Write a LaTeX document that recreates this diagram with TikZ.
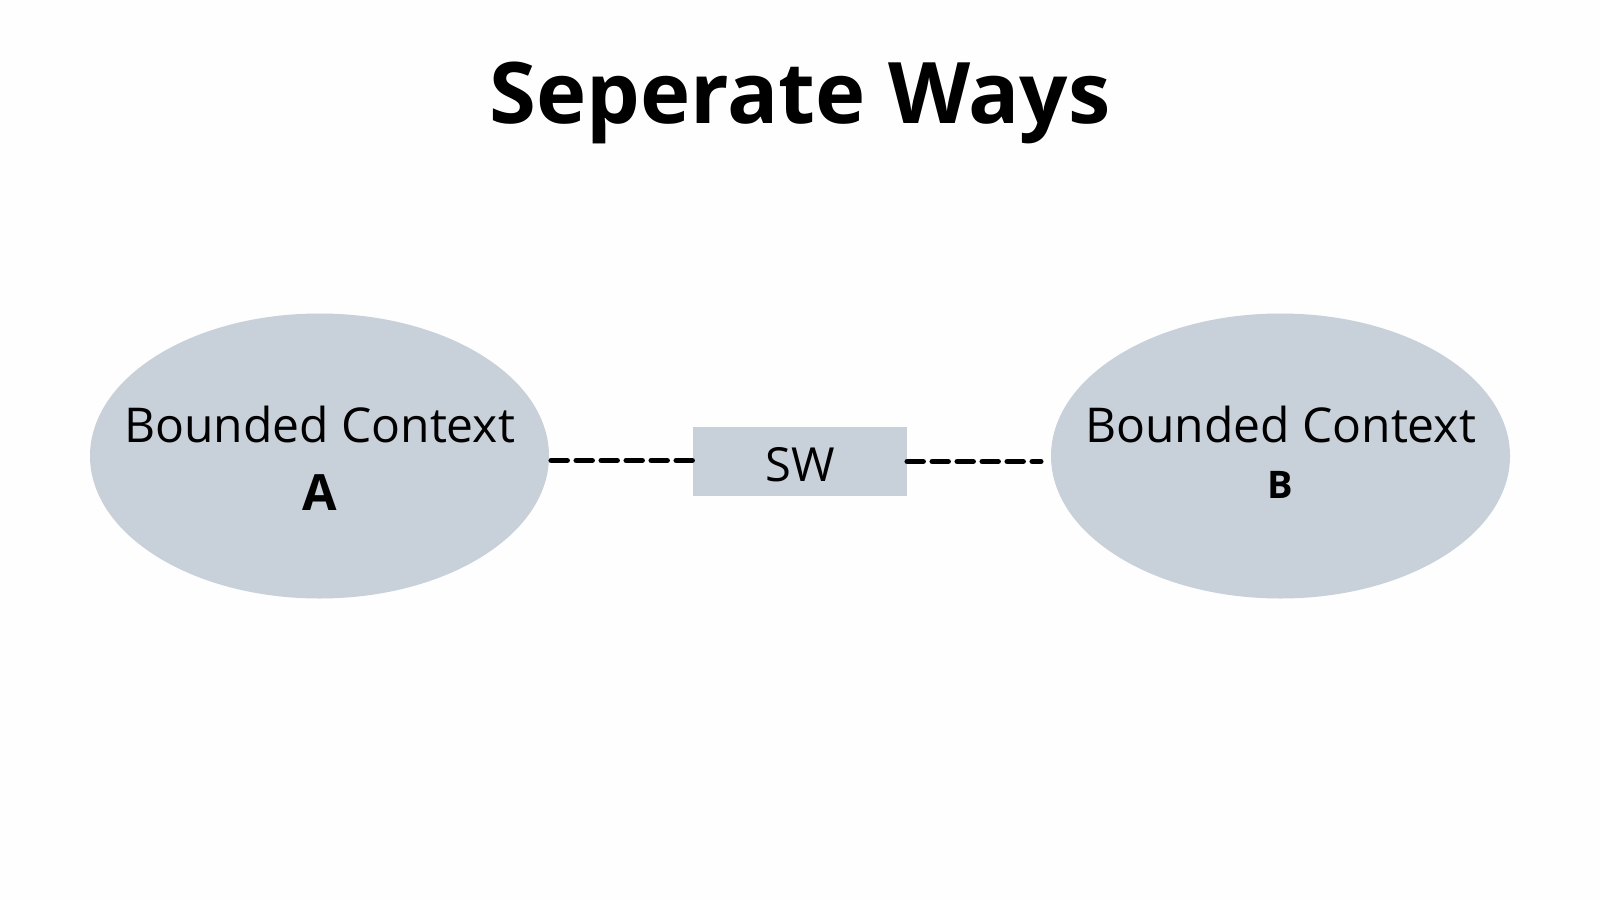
\documentclass[tikz,border=0pt]{standalone}
\usepackage{fontspec}
\setmainfont{Open Sans}
\usetikzlibrary{shapes.geometric}
\definecolor{ctxfill}{RGB}{200,208,217}
\definecolor{pagebg}{RGB}{254,254,254}
\tikzset{
  context/.style={ellipse, fill=ctxfill, inner sep=0pt, minimum width=459, minimum height=285},
  swbox/.style={rectangle, fill=ctxfill, inner sep=0pt, minimum width=214, minimum height=69},
  sepline/.style={line width=5.5, dash pattern=on 16 off 9, line cap=round},
  ctxlabel/.style={anchor=base, inner sep=0pt, font=\fontsize{48}{56}\selectfont}
}
\begin{document}
\begin{tikzpicture}[x=1pt,y=1pt,yscale=-1,xscale=1]
\useasboundingbox (0,0) rectangle (1600,900);
\fill[pagebg] (0,0) rectangle (1600,900);

% Title
\node (title) [anchor=base, inner sep=0pt, font=\fontsize{85}{95}\selectfont\bfseries] at (800,123) {Seperate Ways};

%Ellipses
\node (a) [context] at (319.5,456) {};
\node (b) [context] at (1280.5,456) {};
%Rectangle
\node (sw) [swbox] at (800,461.5) {};

% Text Node
\node (alabel) [ctxlabel] at (319.5,442) {Bounded Context};
\node (aname) [anchor=base, inner sep=0pt, font=\fontsize{50}{56}\selectfont\bfseries] at (319.5,510) {A};
\node (blabel) [ctxlabel] at (1280.5,442) {Bounded Context};
\node (bname) [anchor=base, inner sep=0pt, font=\fontsize{38}{44}\selectfont\bfseries] at (1280.5,498) {B};
\node (swlabel) [ctxlabel, font=\fontsize{47}{54}\selectfont] at (800,481) {SW};

%Straight Lines
\draw [sepline] (a.east |- sw.west) ++(2,-1) -- ([yshift=-1]sw.west);
\draw [sepline, shorten >=10] (sw.east) -- (b.west |- sw.east);
\end{tikzpicture}
\end{document}
